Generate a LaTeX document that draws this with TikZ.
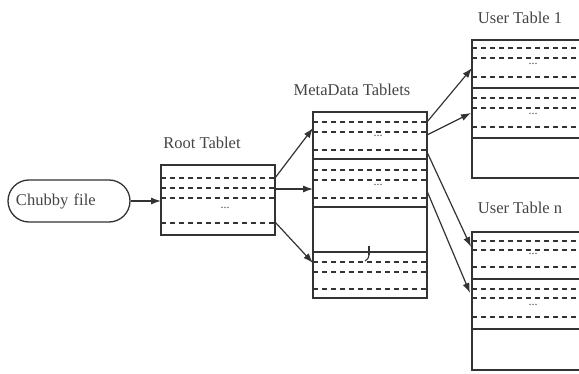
\documentclass[tikz,border=0pt]{standalone}
\usepackage{fontspec}
\setmainfont{Liberation Serif}
\usetikzlibrary{arrows.meta,calc}

\definecolor{ink}{HTML}{333333}
\definecolor{txt}{HTML}{444444}

\tikzset{
  box/.style={draw=ink, line width=1.4pt, minimum width=114pt, inner sep=0pt, outer sep=0pt},
  openbox/.style={inner sep=0pt, outer sep=0pt, minimum width=140pt},
  pill/.style={draw=ink, line width=1.3pt, rounded corners=21pt, minimum width=122pt,
    minimum height=42pt, text width=106pt, align=left, inner xsep=8pt, inner ysep=0pt,
    font=\fontsize{16.5pt}{18pt}\selectfont, text=txt},
  title/.style={font=\fontsize{16.5pt}{18pt}\selectfont, text=txt, inner sep=0pt},
  dots/.style={font=\fontsize{12pt}{13pt}\selectfont, text=txt, inner sep=0pt},
  row/.style={draw=ink, line width=1.3pt, dash pattern=on 5pt off 4pt},
  sep/.style={draw=ink, line width=1.4pt},
  link/.style={draw=ink, line width=1.2pt, -{Latex[length=10pt,width=7pt]}}
}

\begin{document}
\begin{tikzpicture}[x=1pt,y=-1pt]
\useasboundingbox (0,0) rectangle (579,374);
\clip (0,0) rectangle (579,374);

% Chubby file
\node[pill] (chubby) at (69,201) {Chubby file};

% Root tablet
\node[box, minimum height=70pt] (root) at (218,200) {};
\node[title] (rootlbl) at (202,143) {Root Tablet};
\foreach \y in {178,188,198,223}
  \draw[row] (161,\y) -- (275,\y);
\node[dots] (rootdots) at (225,208) {...};

% MetaData tablets
\node[box, minimum height=186pt] (meta) at (370,205) {};
\node[title] (metalbl) at (352,90) {MetaData Tablets};
\foreach \y in {122,132,150,170,180,198,262,272,289}
  \draw[row] (313,\y) -- (427,\y);
\foreach \y in {159,207,252}
  \draw[sep] (313,\y) -- (427,\y);
\node[dots] (metadotsA) at (378,136) {...};
\node[dots] (metadotsB) at (378,185) {...};
% small break mark across the lower separator
\draw[ink, line width=1.6pt] (369,246) -- (369,255);
\draw[ink, line width=1.1pt] (369,255) .. controls (368,259) .. (365,261);

% User table 1 (runs past the right edge)
\node[openbox, minimum height=138pt] (user1) at (542,109) {};
\draw[sep] (600,40) -- (472,40) -- (472,178) -- (600,178);
\node[title] (user1lbl) at (520,18) {User Table 1};
\foreach \y in {48,58,77,98,108,127}
  \draw[row] (472,\y) -- (579,\y);
\foreach \y in {88,138}
  \draw[sep] (472,\y) -- (579,\y);
\node[dots] (user1dotsA) at (533,64) {...};
\node[dots] (user1dotsB) at (533,114) {...};

% User table n
\node[openbox, minimum height=138pt] (usern) at (542,301) {};
\draw[sep] (600,232) -- (472,232) -- (472,370) -- (600,370);
\node[title] (usernlbl) at (520,208) {User Table n};
\foreach \y in {241,250,267,289,298,317}
  \draw[row] (472,\y) -- (579,\y);
\foreach \y in {279,329}
  \draw[sep] (472,\y) -- (579,\y);
\node[dots] (userndotsA) at (533,254) {...};
\node[dots] (userndotsB) at (533,305) {...};

% connector ends
\coordinate (rA) at (275,178);
\coordinate (rB) at (275,189);
\coordinate (rC) at (275,222);
\coordinate (mA) at (313,128);
\coordinate (mB) at (313,189);
\coordinate (mC) at (313,263);
\coordinate (mD) at (427,122);
\coordinate (mE) at (427,135);
\coordinate (mF) at (427,152);
\coordinate (mG) at (427,191);
\coordinate (uA) at (472,68);
\coordinate (uB) at (471,113);
\coordinate (uC) at (471,247);
\coordinate (uD) at (470,293);

% connectors
\draw[link] (chubby.east) -- (root.west |- chubby.east);
\draw[link] (rA) -- (mA);
\draw[link] (rB) -- (mB);
\draw[link] (rC) -- (mC);
\draw[link] (mD) -- (uA);
\draw[link] (mE) -- (uB);
\draw[link] (mF) -- (uC);
\draw[link] (mG) -- (uD);
\end{tikzpicture}
\end{document}
